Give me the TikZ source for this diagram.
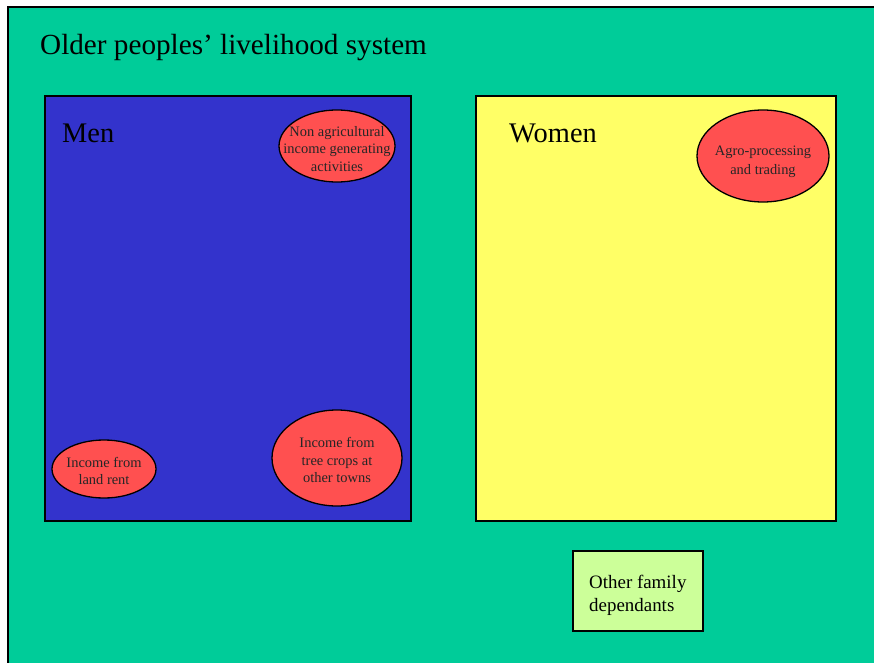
\documentclass[tikz,border=0pt]{standalone}
\usepackage{fontspec}
\setmainfont{Liberation Serif}
\usetikzlibrary{shapes.geometric}
\definecolor{bggreen}{HTML}{00CC99}
\definecolor{menblue}{HTML}{3333CC}
\definecolor{womenyellow}{HTML}{FFFF66}
\definecolor{blobred}{HTML}{FF5050}
\definecolor{paleleaf}{HTML}{CCFF99}
\begin{document}
\begin{tikzpicture}[x=1bp,y=-1bp,
  panel/.style={draw=black,line width=1.3bp},
  blob/.style={ellipse,draw=black,line width=1.3bp,fill=blobred,inner sep=0pt},
  blobtext/.style={align=center,font=\fontsize{14.5}{17.5}\selectfont,text=black!85,inner sep=0pt},
  heading/.style={anchor=base west,font=\fontsize{28.5}{34}\selectfont,inner sep=0pt}]
\useasboundingbox (0,0) rectangle (874,663);
% backdrop
\fill[white] (0,0) rectangle (874,663);
\draw[panel,fill=bggreen] (8,7) rectangle (890,680);
\node[heading,font=\fontsize{29.3}{34}\selectfont] (title) at (40,55) {Older peoples’ livelihood system};
% men panel
\draw[panel,fill=menblue] (45,96) rectangle (411,521);
\node[heading] (men) at (62,143) {Men};
\node[blob,minimum width=116bp,minimum height=72bp] (nonagri) at (337,146) {};
\node[blobtext] at ([yshift=-3bp]nonagri) {Non agricultural\\income generating\\activities};
\node[blob,minimum width=104bp,minimum height=58bp] (landrent) at (104,469) {};
\node[blobtext] at ([yshift=-2bp]landrent) {Income from\\land rent};
\node[blob,minimum width=130bp,minimum height=96bp] (treecrops) at (337,458) {};
\node[blobtext] at ([yshift=-2bp]treecrops) {Income from\\tree crops at\\other towns};
% women panel
\draw[panel,fill=womenyellow] (476,96) rectangle (836,521);
\node[heading] (women) at (509,143) {Women};
\node[blob,minimum width=132bp,minimum height=92bp] (agro) at (763,156) {};
\node[blobtext,font=\fontsize{14.5}{19}\selectfont] at ([yshift=-6bp]agro) {Agro-processing\\and trading};
% dependants box
\draw[panel,fill=paleleaf] (573,551) rectangle (703,631);
\node[anchor=base west,align=left,inner sep=0pt,font=\fontsize{19}{23}\selectfont] (deps) at (589,611) {Other family\\dependants};
\end{tikzpicture}
\end{document}
